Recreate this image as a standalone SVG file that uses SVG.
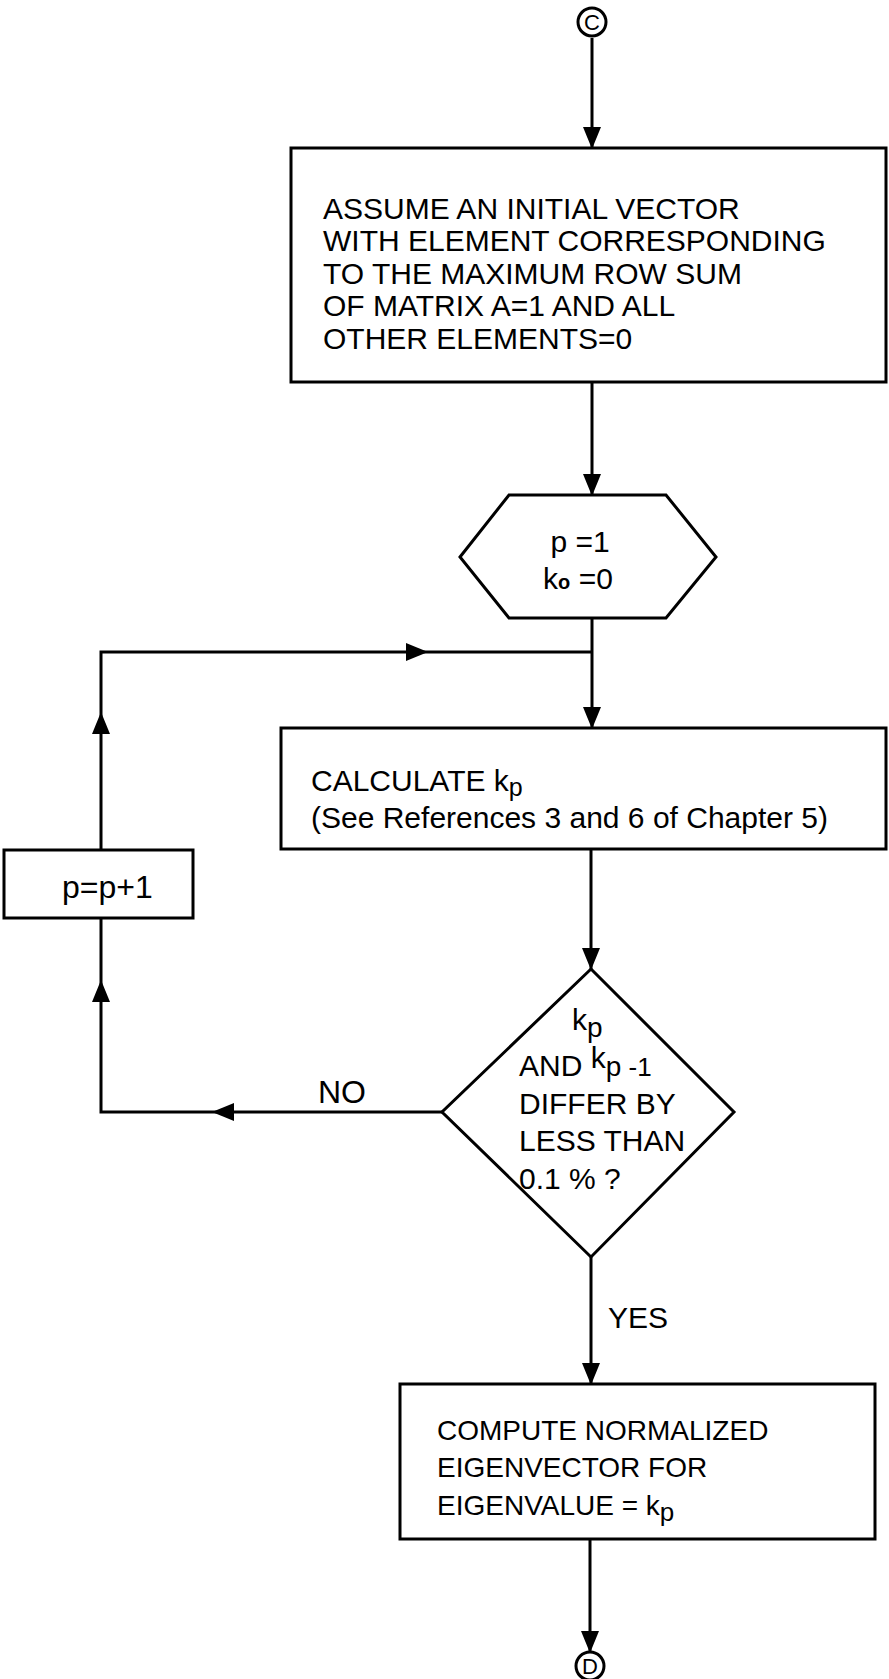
<svg xmlns="http://www.w3.org/2000/svg" xmlns:xlink="http://www.w3.org/1999/xlink" width="889" height="1679" viewBox="0 0 889 1679">
<style>
.s{fill:none;stroke:#000;stroke-width:3}
.n{fill:#fff;stroke:#000;stroke-width:3}
.t{font-family:"Liberation Sans",Arial,sans-serif;font-size:30px;fill:#000}
.m{text-anchor:middle}
.c{font-family:"Liberation Sans",Arial,sans-serif;font-size:22px;fill:#000;text-anchor:middle}
</style>
<defs>
<path id="ah" d="M0,0 L-22,-9 L-22,9 Z" fill="#000"/>
</defs>
<rect width="889" height="1679" fill="#fff"/>
<g id="connectors">
<line class="s" x1="592" y1="38" x2="592" y2="148"/>
<line class="s" x1="592" y1="382" x2="592" y2="495"/>
<line class="s" x1="592" y1="618" x2="592" y2="728"/>
<polyline class="s" points="101,849 101,652 592,652"/>
<line class="s" x1="591" y1="849" x2="591" y2="969"/>
<polyline class="s" points="442,1112 101,1112 101,918"/>
<line class="s" x1="591" y1="1257" x2="591" y2="1384"/>
<line class="s" x1="590" y1="1539" x2="590" y2="1652"/>
<use xlink:href="#ah" transform="translate(592,149) rotate(90)"/>
<use xlink:href="#ah" transform="translate(592,496) rotate(90)"/>
<use xlink:href="#ah" transform="translate(592,729) rotate(90)"/>
<use xlink:href="#ah" transform="translate(428,652)"/>
<use xlink:href="#ah" transform="translate(101,712) rotate(-90)"/>
<use xlink:href="#ah" transform="translate(101,980) rotate(-90)"/>
<use xlink:href="#ah" transform="translate(591,970) rotate(90)"/>
<use xlink:href="#ah" transform="translate(212,1112) rotate(180)"/>
<use xlink:href="#ah" transform="translate(591,1385) rotate(90)"/>
<use xlink:href="#ah" transform="translate(590,1653) rotate(90)"/>
<text class="t" x="318" y="1103" style="font-size:32px">NO</text>
<text class="t" x="608" y="1328">YES</text>
</g>
<g id="connector-c">
<circle class="n" cx="592" cy="22" r="14"/>
<text class="c" x="592" y="30">C</text>
</g>
<g id="init-vector">
<rect class="n" x="291" y="148" width="595" height="234"/>
<text class="t" x="323" y="219">ASSUME AN INITIAL VECTOR</text>
<text class="t" x="323" y="251">WITH ELEMENT CORRESPONDING</text>
<text class="t" x="323" y="284">TO THE MAXIMUM ROW SUM</text>
<text class="t" x="323" y="316">OF MATRIX A=1 AND ALL</text>
<text class="t" x="323" y="349">OTHER ELEMENTS=0</text>
</g>
<g id="init-p">
<polygon class="n" points="460,557 509,495 666,495 716,557 666,618 509,618"/>
<text class="t m" x="580" y="552">p =1</text>
<text class="t m" x="578" y="589">k<tspan font-size="20" font-weight="bold">o</tspan> =0</text>
</g>
<g id="calc-kp">
<rect class="n" x="281" y="728" width="605" height="121"/>
<text class="t" x="311" y="791">CALCULATE k<tspan font-size="25" dy="5">p</tspan></text>
<text class="t" x="311" y="828">(See References 3 and 6 of Chapter 5)</text>
</g>
<g id="increment-p">
<rect class="n" x="4" y="850" width="189" height="68"/>
<text class="t" x="62" y="898" style="font-size:32px">p=p+1</text>
</g>
<g id="converged">
<polygon class="n" points="591,969 734,1112 591,1257 442,1112"/>
<text class="t" x="572" y="1030">k<tspan font-size="28" dy="7">p</tspan></text>
<text class="t" x="519" y="1076">AND <tspan dy="-8">k</tspan><tspan font-size="28" dy="8">p</tspan><tspan font-size="26"> -1</tspan></text>
<text class="t" x="519" y="1114">DIFFER BY</text>
<text class="t" x="519" y="1151">LESS THAN</text>
<text class="t" x="519" y="1189">0.1 % ?</text>
</g>
<g id="eigenvector">
<rect class="n" x="400" y="1384" width="475" height="155"/>
<text class="t" x="437" y="1440" style="font-size:28px">COMPUTE NORMALIZED</text>
<text class="t" x="437" y="1477" style="font-size:28px">EIGENVECTOR FOR</text>
<text class="t" x="437" y="1515" style="font-size:28px">EIGENVALUE = k<tspan font-size="26" dy="6">p</tspan></text>
</g>
<g id="connector-d">
<circle class="n" cx="590" cy="1666" r="14"/>
<text class="c" x="590" y="1674">D</text>
</g>
</svg>
